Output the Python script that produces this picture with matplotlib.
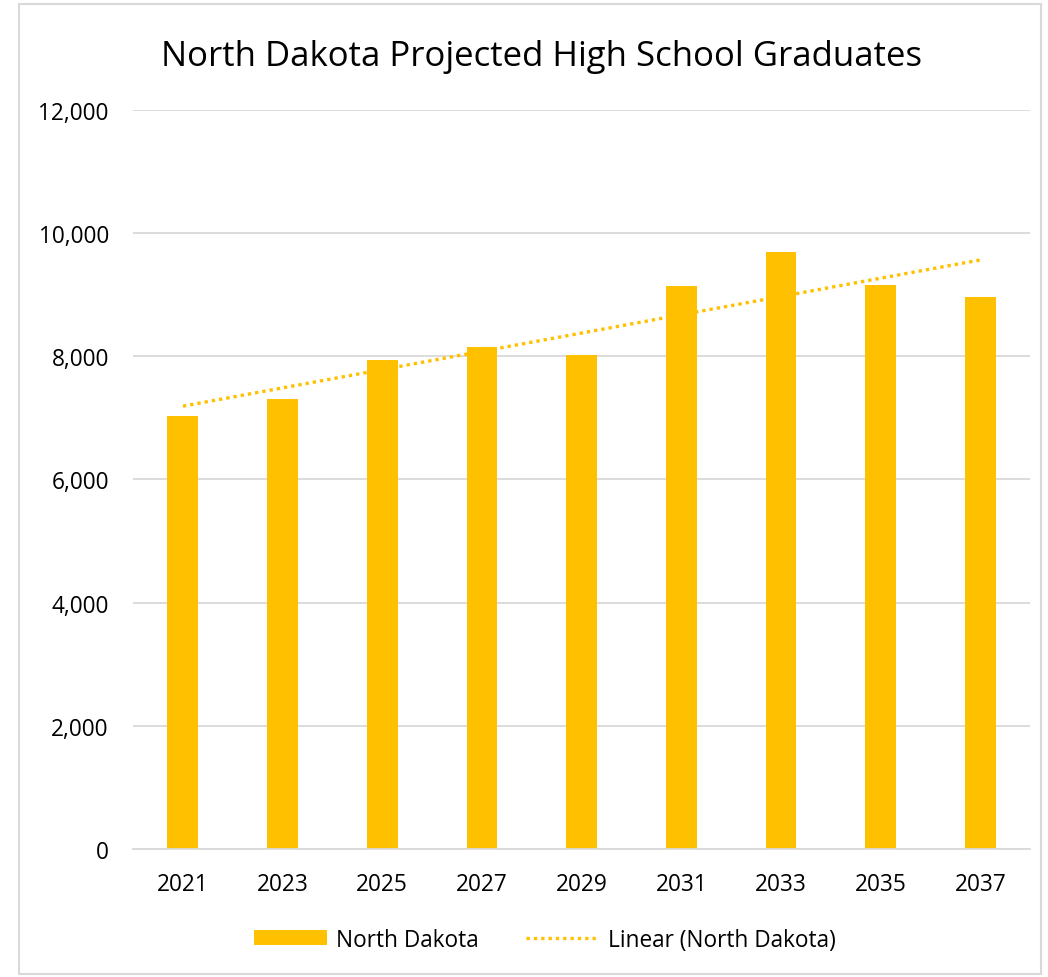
import numpy as np
import matplotlib
matplotlib.use("Agg")
import matplotlib.pyplot as plt
from matplotlib.patches import Rectangle

# data
years = ["2021", "2023", "2025", "2027", "2029", "2031", "2033", "2035", "2037"]
graduates = [7030, 7300, 7940, 8150, 8020, 9140, 9700, 9160, 8960]

plt.rcParams['font.family'] = ['Open Sans', 'DejaVu Sans']

gold = "#FFC000"
grid_grey = "#D9D9D9"

fig = plt.figure(figsize=(10.48, 9.78), dpi=100)
ax = fig.add_axes([0.127, 0.131, 0.856, 0.7555])

x = np.arange(len(years))
bars = ax.bar(x, graduates, width=0.31, color=gold, label="North Dakota", zorder=3)

# linear trendline fitted to the bars
slope, intercept = np.polyfit(x, graduates, 1)
trend, = ax.plot(x, slope * x + intercept, color=gold, linestyle=(0, (1, 1.2)),
                 linewidth=2.4, label="Linear (North Dakota)", zorder=4)

ax.set_xlim(-0.5, len(years) - 0.5)
ax.set_ylim(0, 12000)
ax.set_yticks(np.arange(0, 12001, 2000))
ax.yaxis.set_major_formatter(matplotlib.ticker.FuncFormatter(lambda v, p: f"{int(v):,}"))
ax.set_xticks(x)
ax.set_xticklabels(years)
ax.tick_params(axis='both', length=0, labelsize=16.3, colors="#000000")
ax.tick_params(axis='x', pad=17)
ax.tick_params(axis='y', pad=17.5)

ax.grid(axis='y', color=grid_grey, linewidth=1.3, zorder=0)
for side in ["top", "right", "left"]:
    ax.spines[side].set_visible(False)
ax.spines["bottom"].set_color(grid_grey)
ax.spines["bottom"].set_linewidth(1.3)
ax.spines["bottom"].set_zorder(5)

fig.text(0.517, 0.942, "North Dakota Projected High School Graduates",
         ha="center", va="center", fontsize=25)

fig.legend([bars, trend], ["North Dakota", "Linear (North Dakota)"],
           loc="center", bbox_to_anchor=(0.52, 0.038), ncol=2, frameon=False,
           fontsize=16.3, handlelength=3.2, handleheight=0.65, columnspacing=2.1,
           handletextpad=0.4)

# light frame around the chart
fig.patches.append(Rectangle((0.018, 0.003), 0.975, 0.992, transform=fig.transFigure,
                             fill=False, edgecolor=grid_grey, linewidth=1.5))

fig.savefig("out.png", dpi=100)
